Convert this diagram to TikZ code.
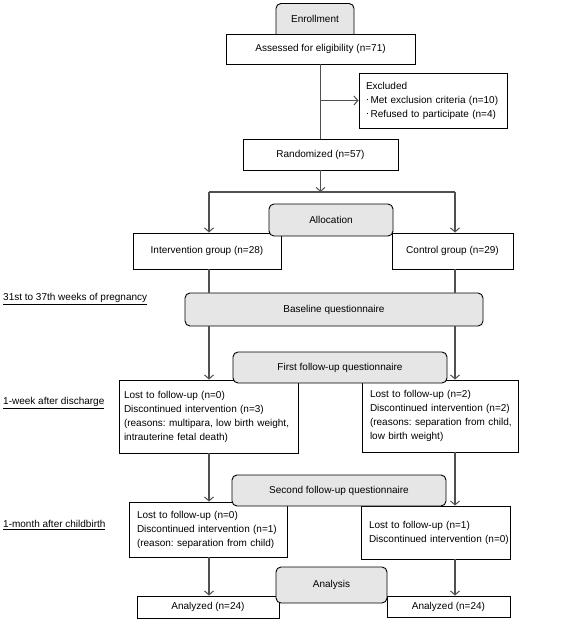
\documentclass[tikz,border=0pt]{standalone}
\usepackage{fontspec}
\setmainfont{Liberation Sans}
\usetikzlibrary{arrows.meta}
\definecolor{linegray}{HTML}{505050}
\definecolor{boxgray}{HTML}{E6E6E6}
\newcommand{\bul}{\hspace{0.8pt}\raisebox{2.6pt}{\rule{1.6pt}{1.6pt}}\hspace{2.2pt}}
\tikzset{
  txt/.style={font=\fontsize{10}{14}\selectfont\frenchspacing},
  wbox/.style={txt, draw=black, line width=0.9pt, fill=white, inner sep=0pt},
  tbox/.style={wbox, align=left, inner ysep=0pt},
  gbox/.style={txt, draw=black, line width=0.9pt, fill=boxgray, rounded corners=5pt, inner sep=0pt},
  conn/.style={draw=linegray, line width=1.3pt},
  arr/.style={conn, -{Straight Barb[length=4pt,width=9pt,line width=1pt]}},
  side/.style={txt, anchor=west, inner sep=0pt}
}
\begin{document}
\begin{tikzpicture}[x=1pt,y=-1pt]
\useasboundingbox[fill=white] (0,0) rectangle (566,633);
% columns
\coordinate (cL) at (209,0);
\coordinate (cR) at (455,0);
% top part
\node[gbox, minimum width=78pt, minimum height=36pt, anchor=north] (enr) at (315,3) {};
\node[txt, inner sep=0pt] (enrt) at (315,19) {Enrollment};
\node[wbox, minimum width=189pt, minimum height=30pt] (assess) at (320.5,49) {Assessed for eligibility (n=71)};
\node[wbox, minimum width=155pt, minimum height=31pt] (rand) at (320.5,154.5) {Randomized (n=57)};
\node[tbox, text width=134pt, inner xsep=7pt, minimum height=55pt] (excl) at (433,100.5)
  {\mbox{Excluded}\\\mbox{\bul Met exclusion criteria (n=10)}\\\mbox{\bul Refused to participate (n=4)}};
\draw[conn] (assess.south) -- (rand.north);
\coordinate (ex) at (assess.south |- excl.west);
\draw[arr] (ex) -- (excl.west);
\coordinate (split) at (rand.south |- 0,192);
\draw[arr] (rand.south) -- (split);
\coordinate (sl) at (cL |- split);
\coordinate (sr) at (cR |- split);
\draw[conn] (sl) -- (sr);
% groups
\node[wbox, minimum width=148pt, minimum height=36pt] (interv) at (207,251) {Intervention group (n=28)};
\node[wbox, minimum width=121pt, minimum height=36pt] (ctrl) at (452.5,251) {Control group (n=29)};
\draw[arr] (sl) -- (sl |- interv.north);
\draw[arr] (sr) -- (sr |- ctrl.north);
\node[gbox, minimum width=124pt, minimum height=32pt] (alloc) at (331,220) {Allocation};
% baseline
\node[gbox, minimum width=298pt, minimum height=33pt] (base) at (334,309.5) {Baseline questionnaire};
\draw[conn] (interv.south -| cL) -- (base.north -| cL);
\draw[conn] (ctrl.south -| cR) -- (base.north -| cR);
% first follow-up
\node[tbox, text width=169pt, inner xsep=5pt, minimum height=73pt] (lb1) at (208.5,416.5)
  {\mbox{Lost to follow-up (n=0)}\\\mbox{Discontinued intervention (n=3)}\\\mbox{(reasons: multipara, low birth weight,}\\\mbox{intrauterine fetal death)}};
\node[tbox, text width=140pt, inner xsep=8pt, minimum height=72pt] (rb1) at (440,416)
  {\mbox{Lost to follow-up (n=2)}\\\mbox{Discontinued intervention (n=2)}\\\mbox{(reasons: separation from child,}\\\mbox{low birth weight)}};
\draw[arr] (base.south -| cL) -- (lb1.north -| cL);
\draw[arr] (base.south -| cR) -- (rb1.north -| cR);
\node[gbox, minimum width=214pt, minimum height=31pt] (fu1) at (340,367.5) {First follow-up questionnaire};
% second follow-up
\node[tbox, text width=142pt, inner xsep=8pt, minimum height=55pt] (lb2) at (208,529.5)
  {\mbox{Lost to follow-up (n=0)}\\\mbox{Discontinued intervention (n=1)}\\\mbox{(reason: separation from child)}};
\node[tbox, text width=133pt, inner xsep=8pt, minimum height=53pt] (rb2) at (435.5,532.5)
  {\mbox{Lost to follow-up (n=1)}\\\mbox{Discontinued intervention (n=0)}};
\draw[arr] (lb1.south -| cL) -- (lb2.north -| cL);
\draw[arr] (rb1.south -| cR) -- (rb2.north -| cR);
\node[gbox, minimum width=214pt, minimum height=31pt] (fu2) at (339,490.5) {Second follow-up questionnaire};
% analysis
\node[wbox, minimum width=142pt, minimum height=22pt] (la) at (208,607) {Analyzed (n=24)};
\node[wbox, minimum width=123pt, minimum height=21pt] (ra) at (448.5,606.5) {Analyzed (n=24)};
\draw[arr] (lb2.south -| cL) -- (la.north -| cL);
\draw[arr] (rb2.south -| cR) -- (ra.north -| cR);
\node[gbox, minimum width=111pt, minimum height=36pt] (anal) at (331.5,585) {Analysis};
% side labels
\node[side] (w1) at (3,299) {\underline{31st to 37th weeks of pregnancy}};
\node[side] (w2) at (3,403) {\underline{1-week after discharge}};
\node[side] (w3) at (3,525) {\underline{1-month after childbirth}};
\end{tikzpicture}
\end{document}
